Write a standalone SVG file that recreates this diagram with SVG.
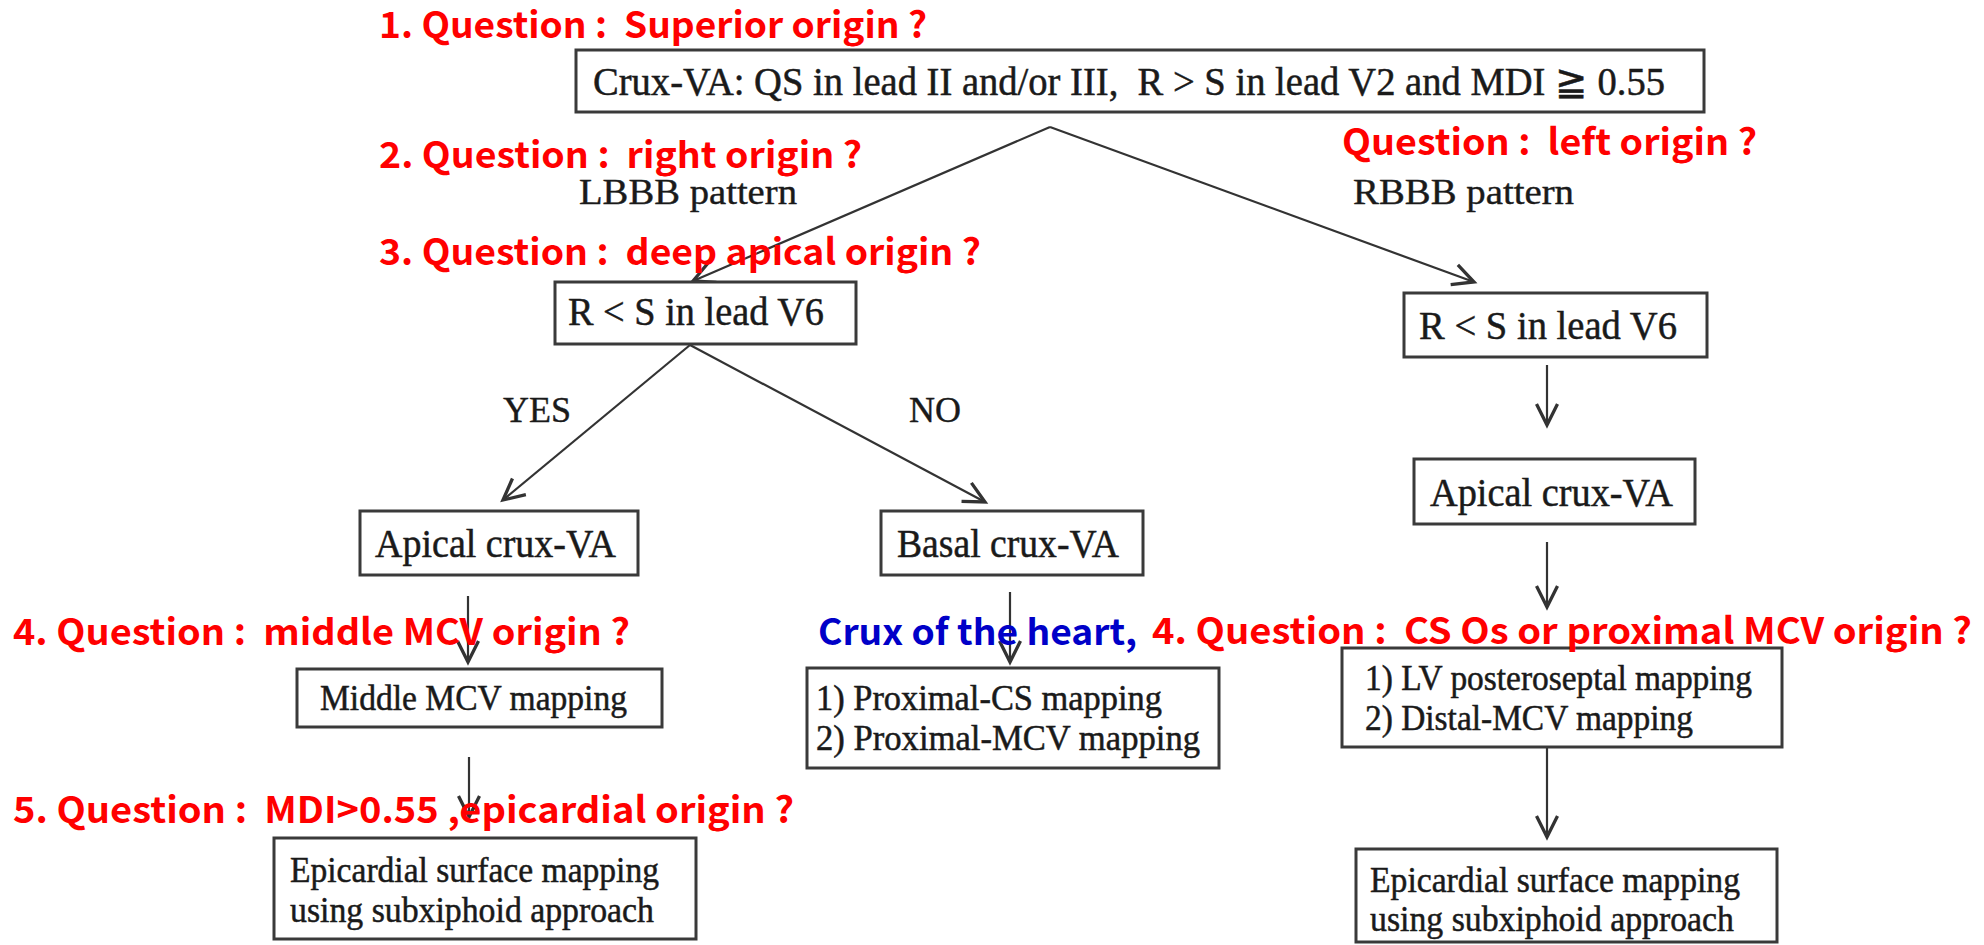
<svg xmlns="http://www.w3.org/2000/svg" width="1984" height="945" viewBox="0 0 1984 945">
<style>
.box{fill:#fff;stroke:#3a3a3a;stroke-width:3}
.t{font-family:"Liberation Serif","Times New Roman",serif;fill:#1a1a1a;stroke:#1a1a1a;stroke-width:0.5;white-space:pre}
.lbl{font-family:"Liberation Serif","Times New Roman",serif;fill:#1a1a1a;stroke:#1a1a1a;stroke-width:0.4;font-size:36px}
.con{fill:none;stroke:#333;stroke-width:2.2}
.q{font-family:"Noto Sans CJK KR","Noto Sans",sans-serif;font-weight:bold;font-size:36px;fill:#ff0000;white-space:pre}
.qb{font-family:"Noto Sans CJK KR","Noto Sans",sans-serif;font-weight:bold;font-size:36px;fill:#0000c8;white-space:pre}
</style>
<defs>
<marker id="arr" markerUnits="userSpaceOnUse" markerWidth="30" markerHeight="30" refX="0" refY="0" viewBox="-16 -10 20 20" orient="auto">
<path d="M-14,-7 L0,0 L-14,7" fill="none" stroke="#333" stroke-width="2.2"/>
</marker>
</defs>
<rect width="1984" height="945" fill="#fff"/>

<g id="connectors">
<path class="con" d="M1050,127 L693,281" marker-end="url(#arr)"/>
<path class="con" d="M1050,127 L1474,282" marker-end="url(#arr)"/>
<path class="con" d="M690,345 L503,500" marker-end="url(#arr)"/>
<path class="con" d="M690,345 L985,502" marker-end="url(#arr)"/>
<path class="con" d="M1547,365 L1547,425" marker-end="url(#arr)"/>
<path class="con" d="M468,596 L468,662" marker-end="url(#arr)"/>
<path class="con" d="M1010,592 L1010,662" marker-end="url(#arr)"/>
<path class="con" d="M1547,542 L1547,607" marker-end="url(#arr)"/>
<path class="con" d="M469,757 L469,817" marker-end="url(#arr)"/>
<path class="con" d="M1547,747 L1547,837" marker-end="url(#arr)"/>
</g>

<g id="edge-labels">
<text class="lbl" x="579" y="204" textLength="218" lengthAdjust="spacingAndGlyphs">LBBB pattern</text>
<text class="lbl" x="1353" y="204" textLength="221" lengthAdjust="spacingAndGlyphs">RBBB pattern</text>
<text class="lbl" x="503" y="422" textLength="68" lengthAdjust="spacingAndGlyphs">YES</text>
<text class="lbl" x="909" y="422" textLength="52" lengthAdjust="spacingAndGlyphs">NO</text>
</g>

<g id="node-top">
<rect class="box" x="576" y="50" width="1128" height="62"/>
<text class="t" x="593" y="95" font-size="40" textLength="1072" lengthAdjust="spacingAndGlyphs" xml:space="preserve">Crux-VA: QS in lead II and/or III,  R &gt; S in lead V2 and MDI ≧ 0.55</text>
</g>

<g id="node-rs-left">
<rect class="box" x="555" y="282" width="301" height="62"/>
<text class="t" x="568" y="325" font-size="41" textLength="256" lengthAdjust="spacingAndGlyphs">R &lt; S in lead V6</text>
</g>

<g id="node-rs-right">
<rect class="box" x="1404" y="293" width="303" height="64"/>
<text class="t" x="1419" y="339" font-size="41" textLength="258" lengthAdjust="spacingAndGlyphs">R &lt; S in lead V6</text>
</g>

<g id="node-apical-left">
<rect class="box" x="360" y="511" width="278" height="64"/>
<text class="t" x="375" y="557" font-size="41" textLength="241" lengthAdjust="spacingAndGlyphs">Apical crux-VA</text>
</g>

<g id="node-basal">
<rect class="box" x="881" y="511" width="262" height="64"/>
<text class="t" x="897" y="557" font-size="41" textLength="222" lengthAdjust="spacingAndGlyphs">Basal crux-VA</text>
</g>

<g id="node-apical-right">
<rect class="box" x="1414" y="459" width="281" height="65"/>
<text class="t" x="1430" y="506" font-size="41" textLength="243" lengthAdjust="spacingAndGlyphs">Apical crux-VA</text>
</g>

<g id="node-middle-mcv">
<rect class="box" x="297" y="669" width="365" height="58"/>
<text class="t" x="320" y="710" font-size="35" textLength="307" lengthAdjust="spacingAndGlyphs">Middle MCV mapping</text>
</g>

<g id="node-proximal">
<rect class="box" x="807" y="668" width="412" height="100"/>
<text class="t" x="816" y="710" font-size="35" textLength="346" lengthAdjust="spacingAndGlyphs">1) Proximal-CS mapping</text>
<text class="t" x="816" y="750" font-size="35" textLength="384" lengthAdjust="spacingAndGlyphs">2) Proximal-MCV mapping</text>
</g>

<g id="node-lv">
<rect class="box" x="1342" y="648" width="440" height="99"/>
<text class="t" x="1365" y="690" font-size="35" textLength="387" lengthAdjust="spacingAndGlyphs">1) LV posteroseptal mapping</text>
<text class="t" x="1365" y="730" font-size="35" textLength="328" lengthAdjust="spacingAndGlyphs">2) Distal-MCV mapping</text>
</g>

<g id="node-epi-left">
<rect class="box" x="274" y="838" width="422" height="101"/>
<text class="t" x="290" y="882" font-size="35" textLength="369" lengthAdjust="spacingAndGlyphs">Epicardial surface mapping</text>
<text class="t" x="290" y="922" font-size="35" textLength="364" lengthAdjust="spacingAndGlyphs">using subxiphoid approach</text>
</g>

<g id="node-epi-right">
<rect class="box" x="1356" y="849" width="421" height="93"/>
<text class="t" x="1370" y="892" font-size="35" textLength="370" lengthAdjust="spacingAndGlyphs">Epicardial surface mapping</text>
<text class="t" x="1370" y="931" font-size="35" textLength="364" lengthAdjust="spacingAndGlyphs">using subxiphoid approach</text>
</g>

<g id="annotations">
<text class="q" xml:space="preserve" x="379" y="38" textLength="548" lengthAdjust="spacingAndGlyphs">1. Question :  Superior origin ?</text>
<text class="q" xml:space="preserve" x="379" y="168" textLength="483" lengthAdjust="spacingAndGlyphs">2. Question :  right origin ?</text>
<text class="q" xml:space="preserve" x="1342" y="155" textLength="415" lengthAdjust="spacingAndGlyphs">Question :  left origin ?</text>
<text class="q" xml:space="preserve" x="379" y="265" textLength="602" lengthAdjust="spacingAndGlyphs">3. Question :  deep apical origin ?</text>
<text class="q" xml:space="preserve" x="13" y="645" textLength="617" lengthAdjust="spacingAndGlyphs">4. Question :  middle MCV origin ?</text>
<text class="qb" xml:space="preserve" x="818" y="645" textLength="319" lengthAdjust="spacingAndGlyphs">Crux of the heart,</text>
<text class="q" xml:space="preserve" x="1152" y="644" textLength="820" lengthAdjust="spacingAndGlyphs">4. Question :  CS Os or proximal MCV origin ?</text>
<text class="q" xml:space="preserve" x="13" y="823" textLength="781" lengthAdjust="spacingAndGlyphs">5. Question :  MDI&gt;0.55 ,epicardial origin ?</text>
</g>
</svg>
